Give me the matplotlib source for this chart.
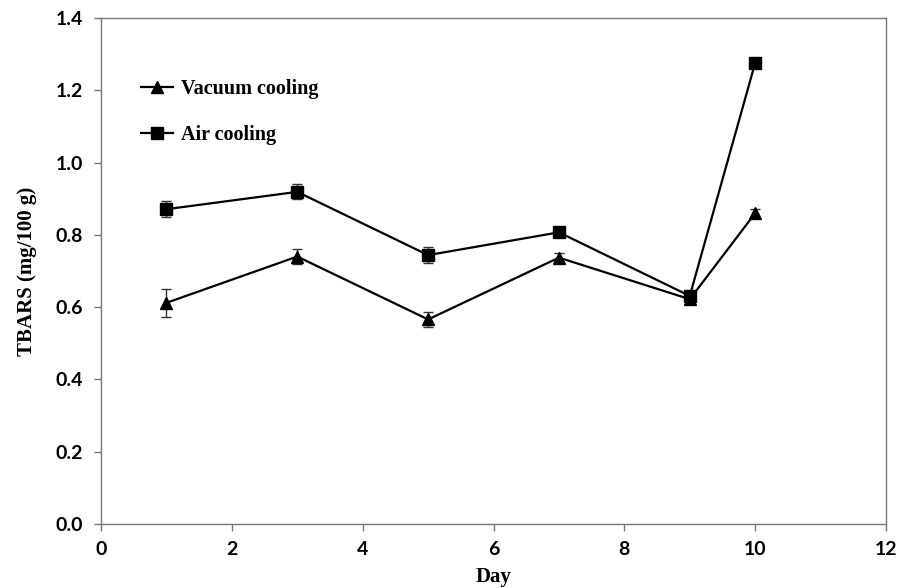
import matplotlib
matplotlib.use("Agg")
import matplotlib.pyplot as plt
from matplotlib.lines import Line2D

# data
days = [1, 3, 5, 7, 9, 10]
vacuum = [0.612, 0.740, 0.566, 0.737, 0.622, 0.860]
vacuum_err = [0.038, 0.021, 0.020, 0.012, 0.008, 0.012]
air = [0.871, 0.919, 0.744, 0.807, 0.631, 1.276]
air_err = [0.022, 0.021, 0.022, 0.008, 0.008, 0.006]

xticks = [0, 2, 4, 6, 8, 10, 12]
yticks = [0.0, 0.2, 0.4, 0.6, 0.8, 1.0, 1.2, 1.4]

fig = plt.figure(figsize=(9.11, 5.88), dpi=100)
ax = fig.add_axes([0.1109, 0.1088, 0.8617, 0.8606])

ax.errorbar(days, vacuum, yerr=vacuum_err, color='black', marker='^', markersize=8,
            linewidth=1.6, elinewidth=1.0, ecolor='#333333', capsize=3.5, capthick=1.0)
ax.errorbar(days, air, yerr=air_err, color='black', marker='s', markersize=8,
            linewidth=1.6, elinewidth=1.0, ecolor='#333333', capsize=3.5, capthick=1.0)

ax.set_xlim(0, 12)
ax.set_ylim(0, 1.4)
ax.set_xticks(xticks)
ax.set_yticks(yticks)
tick_font = dict(fontfamily='Lato', fontweight='bold', fontsize=14)
ax.set_xticklabels([str(t) for t in xticks], **tick_font)
ax.set_yticklabels([f"{t:.1f}" for t in yticks], **tick_font)

for s in ax.spines.values():
    s.set_color('#777777')
    s.set_linewidth(1.0)
ax.tick_params(direction='out', length=5, color='#777777', width=1.0)
ax.tick_params(axis='x', pad=7)
ax.tick_params(axis='y', pad=8)

label_font = dict(fontfamily='Liberation Serif', fontweight='bold', fontsize=15)
ax.set_xlabel('Day', labelpad=7, **label_font)
ax.set_ylabel('TBARS (mg/100 g)', labelpad=13, **label_font)

handles = [Line2D([], [], color='black', marker='^', markersize=8, linewidth=1.6),
           Line2D([], [], color='black', marker='s', markersize=8, linewidth=1.6)]
ax.legend(handles, ['Vacuum cooling', 'Air cooling'], loc='upper left',
          bbox_to_anchor=(0.028, 0.915), frameon=False,
          handlelength=1.6, handletextpad=0.4, labelspacing=1.3,
          prop={'family': 'Liberation Serif', 'weight': 'bold', 'size': 14.5})

fig.savefig('out.png', dpi=100)
